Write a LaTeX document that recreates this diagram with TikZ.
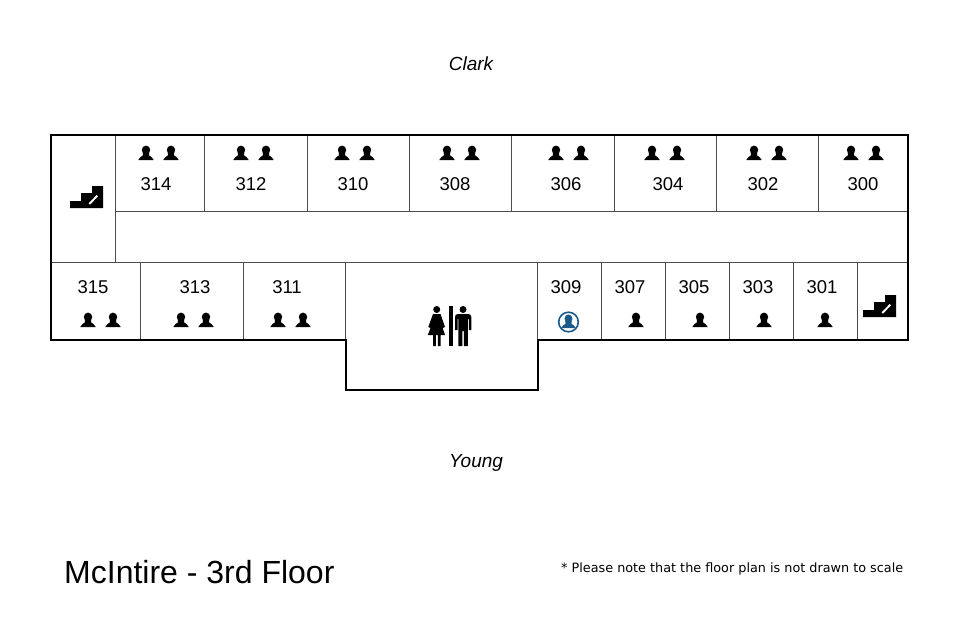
\documentclass[tikz,border=0pt]{standalone}
\usepackage{fontspec}
\setmainfont{Liberation Sans}
\newfontfamily\notefont{DejaVu Sans}
\definecolor{iconblue}{HTML}{1A5A8A}
\tikzset{
  x=1pt,y=-1pt,
  wall/.style={draw=black,line width=1.8pt,line join=miter},
  part/.style={draw=black!70,line width=0.9pt},
  room/.style={font=\fontsize{18.5}{20}\selectfont,inner sep=0pt},
  side/.style={font=\fontsize{19}{21}\selectfont\itshape,inner sep=0pt},
  person/.pic={
    \fill (0,-3) ellipse (4.2 and 4.4);
    \fill (-3.2,-1) -- (3.2,-1) -- (3.2,2.5) .. controls (4,3.8) and (7,3.8) .. (7.7,7) -- (-7.7,7)
      .. controls (-7,3.8) and (-4,3.8) .. (-3.2,2.5) -- cycle;
  },
  stairs/.pic={
    \fill (0,22) -- (0,15) -- (11,15) -- (11,7) -- (22,7) -- (22,0) -- (33,0) -- (33,22) -- cycle;
    \draw[white,line width=1.9pt] (19.3,18) -- (27.3,9.7);
  },
}
\begin{document}
\begin{tikzpicture}
    \useasboundingbox (0,0) rectangle (979,634);

    % partitions
    \draw[part] (115.5,135) -- (115.5,263);
    \draw[part] (204.5,135) -- (204.5,211);
    \draw[part] (307,135) -- (307,211);
    \draw[part] (409,135) -- (409,211);
    \draw[part] (511.7,135) -- (511.7,211);
    \draw[part] (614,135) -- (614,211);
    \draw[part] (716,135) -- (716,211);
    \draw[part] (818.7,135) -- (818.7,211);
    \draw[part] (115.5,211) -- (908,211);
    \draw[part] (51,262.7) -- (908,262.7);
    \draw[part] (140.5,263) -- (140.5,340);
    \draw[part] (243,263) -- (243,340);
    \draw[part] (345.5,263) -- (345.5,340);
    \draw[part] (537.5,263) -- (537.5,340);
    \draw[part] (601.5,263) -- (601.5,340);
    \draw[part] (665.5,263) -- (665.5,340);
    \draw[part] (729.5,263) -- (729.5,340);
    \draw[part] (793.5,263) -- (793.5,340);
    \draw[part] (857.5,263) -- (857.5,340);
    \draw[wall] (51,135) -- (908,135) -- (908,340) -- (538,340) -- (538,390) -- (346,390) -- (346,340) -- (51,340) -- cycle;

    % rooms
    \node[room] (r314) at (156,184) {314};
    \node[room] (r312) at (251,184) {312};
    \node[room] (r310) at (353,184) {310};
    \node[room] (r308) at (455,184) {308};
    \node[room] (r306) at (566,184) {306};
    \node[room] (r304) at (668,184) {304};
    \node[room] (r302) at (763,184) {302};
    \node[room] (r300) at (863,184) {300};
    \node[room] (r315) at (93,287) {315};
    \node[room] (r313) at (195,287) {313};
    \node[room] (r311) at (287,287) {311};
    \node[room] (r309) at (566,287) {309};
    \node[room] (r307) at (630,287) {307};
    \node[room] (r305) at (694,287) {305};
    \node[room] (r303) at (758,287) {303};
    \node[room] (r301) at (822,287) {301};

    % occupants
    \pic at (146,153) {person};
    \pic at (171,153) {person};
    \pic at (241,153) {person};
    \pic at (266,153) {person};
    \pic at (342,153) {person};
    \pic at (367,153) {person};
    \pic at (447,153) {person};
    \pic at (472,153) {person};
    \pic at (556,153) {person};
    \pic at (581,153) {person};
    \pic at (652,153) {person};
    \pic at (677,153) {person};
    \pic at (754,153) {person};
    \pic at (779,153) {person};
    \pic at (851,153) {person};
    \pic at (876,153) {person};
    \pic at (88,320) {person};
    \pic at (113,320) {person};
    \pic at (181,320) {person};
    \pic at (206,320) {person};
    \pic at (278,320) {person};
    \pic at (303,320) {person};
    \pic at (636,320) {person};
    \pic at (700,320) {person};
    \pic at (764,320) {person};
    \pic at (825,320) {person};

    % stairs
    \pic at (70,186) {stairs};
    \pic at (863,295) {stairs};

    % highlighted occupant
    \draw[iconblue,line width=1.6pt] (568.5,322) circle (9.8);
    \begin{scope}[shift={(568.5,321.5)},scale=0.95,iconblue]
      \fill (0,-3) ellipse (4.2 and 4.4);
      \fill (-3.2,-1) -- (3.2,-1) -- (3.2,2.5) .. controls (4,3.8) and (7,3.8) .. (7.7,7) -- (-7.7,7)
        .. controls (-7,3.8) and (-4,3.8) .. (-3.2,2.5) -- cycle;
    \end{scope}

    % restroom
    \fill (436.7,309.5) circle (3.5);
    \fill (433,314) -- (440.5,314) -- (445,327) -- (442.8,328) -- (440.5,321.5) -- (445,335) -- (440.5,335)
      -- (440.5,346) -- (437.8,346) -- (437.8,335) -- (435.8,335) -- (435.8,346) -- (433,346)
      -- (433,335) -- (427.8,335) -- (433,321.5) -- (430.5,328) -- (428.3,327) -- cycle;
    \fill (448.5,306) rectangle (452.5,346);
    \fill (463,309.5) circle (3.5);
    \fill (458,314) -- (468,314) .. controls (470,314) and (471.3,315) .. (471.3,317) -- (471.3,330) -- (468.8,330)
      -- (468.8,319) -- (467.9,319) -- (467.9,346) -- (463.9,346) -- (463.9,331) -- (462.3,331) -- (462.3,346)
      -- (458.3,346) -- (458.3,319) -- (457.5,319) -- (457.5,330) -- (455,330) -- (455,317)
      .. controls (455,315) and (456,314) .. (458,314) -- cycle;

    % captions
    \node[side] (clark) at (471,64) {Clark};
    \node[side] (young) at (476,463) {Young};
    \node[anchor=west,inner sep=0pt,font=\fontsize{32}{36}\selectfont] (title) at (64,572) {McIntire - 3rd Floor};
    \node[anchor=west,inner sep=0pt,font=\notefont\fontsize{12.8}{15}\selectfont] (note) at (561,569) {* Please note that the floor plan is not drawn to scale};
\end{tikzpicture}
\end{document}
